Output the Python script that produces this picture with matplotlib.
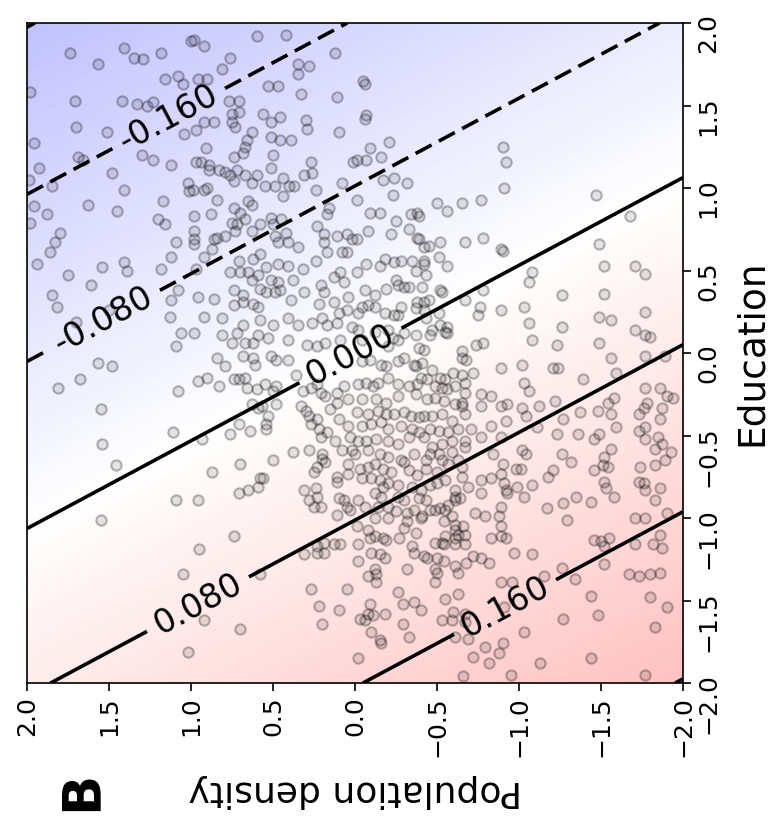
import numpy as np
import matplotlib
matplotlib.use("Agg")
import matplotlib.pyplot as plt

# linear effect surface: z = coef_pop * pop + coef_edu * edu
coef_pop = -0.042
coef_edu = -0.079
edge_levels = [-0.24, 0.24]
label_levels = [-0.16, -0.08, 0.0, 0.08, 0.16]
label_pos = [(1.13, 1.41), (1.55, 0.23), (0.03, -0.01), (0.98, -1.48), (-0.91, -1.53)]
ticks = [2.0, 1.5, 1.0, 0.5, 0.0, -0.5, -1.0, -1.5, -2.0]

pop_density = [
    1.74, 1.57, 1.41, 1.35, 1.29, 1.18, 1.98, 1.71, 1.42, 1.33, 1.27, 1.23, 1.16, 1.08, 1.05, 1.70,
    1.51, 1.96, 1.30, 1.23, 1.12, 1.04, 1.69, 1.66, 1.93, 1.48, 1.99, 1.85, 1.41, 1.96, 1.88, 1.98,
    1.63, 1.45, 1.17, 1.20, 1.16, 1.80, 1.83, 1.86, 1.94, 1.75, 1.54, 1.41, 1.39, 1.18, 1.12, 1.09,
    1.61, 1.85, 1.82, 1.08, 1.12, 1.13, 1.06, 1.09, 1.70, 1.50, 1.00, 1.02, 1.01,
    0.98, 0.92, 0.81, 0.76, 0.60, 0.42, 0.12, 0.35, 0.28, 0.35, 0.96, 0.90, 0.53, 0.47, 0.33, 0.11,
    0.77, 0.71, 0.75, 0.71, 0.56, 0.51, 0.46, 0.75, 0.73, 0.30, 0.29, 0.92, 0.86, 0.97, 0.10, 0.63,
    0.66, 0.67, 0.51, 0.46, 0.39, 0.91, 0.74, 0.68, 0.50, 0.51, 0.27, 0.31, 0.26, 0.01, 0.97, 0.94,
    0.89, 0.89, 0.83, 0.79, 0.76, 0.72, 0.74, 0.67, 0.63, 0.60, 0.99, 0.92, 0.90, 0.84, 0.55, 0.49,
    0.44, 0.40, 0.37, 0.44, 0.24, 0.08, 0.65, 0.63, 0.74, 0.70, 0.51, 0.75, 0.72, 0.67, 0.58, 0.50,
    0.45, 0.98, 0.88, 0.98, 0.98, 0.98, 0.86, 0.84, 0.79, 0.87, 0.73, 0.63, 0.49, 0.42, 0.41, 0.47,
    0.35, 0.23, 0.17, 0.16, 0.19, 0.19, 0.17, 0.11, 0.05, 0.08, 0.05, 0.02, 0.92, 0.71, 0.62, 0.58,
    0.54, 0.47, 0.41, 0.32, 0.24, 0.97, 0.76, 0.70, 0.65, 0.63, 0.59, 0.51, 0.47, 0.46, 0.49, 0.54,
    0.58, 0.38, 0.21, 0.09, 0.13, 0.07, 0.31, 0.96, 0.86, 0.74, 0.68, 0.68, 0.62, 0.74, 0.59, 0.39,
    0.22, 0.19, 0.13, 0.04, 0.05, 0.10, 0.92, 0.81, 0.68, 0.58, 0.50, 0.41, 0.35, 0.26, 0.20, 0.17,
    0.11, 0.02, 0.98, 0.81, 0.72, 0.59, 0.53, 0.41, 0.29, 0.23, 0.18, 0.67, 0.62, 0.75, 0.09,
    -0.05, -0.06, -0.07, -0.06, -0.21, -0.09, -0.07, -0.01, -0.16, -0.17, -0.24, -0.32, -0.23, -0.01,
    -0.50, -0.56, -0.65, -0.77, -0.90, -0.92, -0.91, -0.09, -0.15, -0.25, -0.34, -0.38, -0.39, -0.33,
    -0.22, -0.08, -0.01, -0.38, -0.39, -0.42, -0.45, -0.52, -0.67, -0.78, -0.89, -0.90, -0.07, -0.15,
    -0.18, -0.24, -0.28, -0.35, -0.42, -0.42, -0.01, -0.37, -0.51, -0.56, -0.43, -0.25, -0.19, -0.26,
    -0.30, -0.33, -0.41, -0.52, -0.53, -0.06, -0.12, -0.08, -0.04, -0.12, -0.02, -0.18, -0.24, -0.26,
    -0.28, -0.38, -0.42, -0.45, -0.37, -0.42, -0.43, -0.51, -0.52, -0.56, -0.55, -0.67, -0.76, -0.75,
    -0.78, -0.89, -0.04, -0.12, -0.20, -0.23, -0.26, -0.30, -0.37, -0.46, -0.47, -0.56, -0.74, -0.78,
    -0.02, -0.20, -0.39, -0.42, -0.65,
    -1.47, -1.68, -1.49, -1.08, -1.06, -1.52, -1.71, -1.77, -1.26, -1.52, -1.03, -1.06, -1.49, -1.56,
    -1.77, -1.26, -1.71, -1.77, -1.80, -1.08, -1.23, -1.49,
    1.57, 1.48, 1.68, 1.81, 1.08, 1.55, 1.11, 1.54, 1.46, 1.09, 1.55, 1.05, 1.02,
    0.84, 0.79, 0.68, 0.62, 0.61, 0.51, 0.48, 0.41, 0.96, 0.90, 0.83, 0.74, 0.71, 0.67, 0.66, 0.60,
    0.55, 0.50, 0.48, 0.48, 0.36, 0.32, 0.27, 0.23, 0.21, 0.18, 0.53, 0.54, 0.54, 0.63, 0.59, 0.57,
    0.71, 0.64, 0.76, 0.93, 0.33, 0.30, 0.28, 0.27, 0.23, 0.22, 0.21, 0.17, 0.15, 0.11, 0.11, 0.07,
    0.04, 0.10, 0.04, 0.03, 0.12, 0.08, 0.02, 0.38, 0.28, 0.50, 0.70, 0.87, 0.20, 0.20, 0.18, 0.23,
    0.25, 0.04, 0.04, 0.11, 0.11, 0.58, 0.56, 0.59, 0.65, 0.71, 0.96, 0.31, 0.24, 0.23, 0.28, 0.25,
    0.21, 0.10, 0.07, 0.05, 0.03, 0.11, 0.74, 0.95, 0.23, 0.19, 0.13, 0.09, 0.19, 0.23, 0.31, 0.58,
    0.27, 0.22, 0.10, 0.05, 0.20, 0.92, 0.70,
    -0.04, -0.09, -0.16, -0.19, -0.26, -0.30, -0.36, -0.37, -0.41, -0.47, -0.52, -0.55, -0.60, -0.65,
    -0.65, -0.68, -0.72, -0.89, -0.02, -0.07, -0.11, -0.14, -0.20, -0.26, -0.33, -0.38, -0.40, -0.44,
    -0.49, -0.53, -0.56, -0.61, -0.67, -0.04, -0.13, -0.19, -0.26, -0.37, -0.44, -0.49, -0.54, -0.61,
    -0.65, -0.67, -0.77, -0.83, -0.89, -0.93, -0.92, -0.01, -0.08, -0.14, -0.19, -0.24, -0.30, -0.34,
    -0.39, -0.42, -0.47, -0.53, -0.59, -0.67, -0.65, -0.77, -0.83, -0.04, -0.10, -0.16, -0.20, -0.28,
    -0.35, -0.39, -0.46, -0.51, -0.57, -0.63, -0.71, -0.77, -0.89, -0.02, -0.07, -0.13, -0.20, -0.26,
    -0.33, -0.42, -0.47, -0.53, -0.59, -0.67, 0.00, -0.08, -0.15, -0.20, -0.28, -0.36, -0.43, -0.46,
    -0.51, -0.53, -0.59, -0.67, -0.63, -0.84, -0.90, -0.89, -0.98, -0.92, -0.93, -0.03, -0.08, -0.12,
    -0.17, -0.22, -0.30, -0.33, -0.38, -0.43, -0.50, -0.57, -0.65, -0.65, -0.77, -0.83, -0.91, -0.99,
    -0.04, -0.10, -0.15, -0.17, -0.20, -0.26, -0.35, -0.40, -0.46, -0.50, -0.55, -0.61, -0.69, -0.61,
    -0.02, -0.12, -0.16, -0.26, -0.30, -0.39, -0.43, -0.49, -0.52, -0.57, -0.61, -0.64, -0.77, -0.06,
    -0.14, -0.20, -0.25, -0.32, -0.36, -0.40, -0.46, -0.55, -0.59, -0.73, -0.79, -0.88, -0.89, -0.01,
    -0.08, -0.12, -0.20, -0.32, -0.41, -0.30, -0.37, -0.54, -0.61, -0.61, -0.66, -0.67, -0.63, -0.55,
    -0.89, -0.89, -0.92, -0.83, -0.97, -0.02, -0.09, -0.12, -0.17, -0.19, -0.27, -0.49, -0.53, -0.54,
    -0.61, -0.61, -0.67, -0.72, -0.77, -0.82, -0.02, -0.10, -0.15, -0.18, -0.35, -0.36, -0.42, -0.44,
    -0.50, -0.49, -0.50, -0.54, -0.61, -0.63, -0.68, -0.12, -0.13, -0.13, -0.08, -0.32, -0.49, -0.26,
    -0.29, -0.36, -0.40, -0.55, -0.63, -0.67, -0.89, -0.96, -0.91, -0.09, -0.08, -0.11, -0.18, -0.03,
    -0.06, -0.29, -0.33, -0.53, -0.60, -0.59, -0.61, -0.69, -0.67, -0.10, -0.15, -0.16, -0.02, -0.72,
    -0.79, -0.82, -0.88, -0.90, -0.66, -0.95,
    -1.02, -1.21, -1.24, -1.39, -1.56, -1.59, -1.77, -1.89, -1.03, -1.06, -1.02, -1.04, -1.12, -1.22,
    -1.37, -1.48, -1.54, -1.58, -1.56, -1.77, -1.86, -1.90, -1.94, -1.78, -1.76, -1.87, -1.73, -1.11,
    -1.27, -1.23, -1.36, -1.46, -1.49, -1.59, -1.73, -1.77, -1.86, -1.85, -1.77, -1.87, -1.83, -1.93,
    -1.02, -1.04, -1.01, -1.26, -1.32, -1.52, -1.51, -1.54, -1.46, -1.56, -1.21, -1.18, -1.74, -1.83,
    -1.89, -1.08, -1.03, -1.73, -1.76, -1.77, -1.86, -1.83, -1.52, -1.53, -1.58, -1.35, -1.27, -1.44,
    -1.17, -1.29, -1.71, -1.77, -1.90, -1.86, -1.82, -1.87, -1.71, -1.46, -1.50, -1.52, -1.55, -1.08,
    -1.52, -1.26, -1.15, -1.34, -1.67, -1.73, -1.80, -1.86, -1.44, -1.48, -1.80, -1.90, -1.83, -1.27,
    -1.03, -1.13, -1.44, -1.77,
]
education = [
    1.82, 1.75, 1.85, 1.79, 1.78, 1.82, 1.58, 1.53, 1.53, 1.51, 1.50, 1.52, 1.66, 1.68, 1.63, 1.37,
    1.34, 1.27, 1.20, 1.17, 1.14, 1.33, 1.19, 1.17, 1.12, 1.09, 1.05, 1.01, 0.99, 0.89, 0.84, 0.79,
    0.90, 0.86, 0.92, 0.81, 0.78, 0.73, 0.67, 0.61, 0.54, 0.47, 0.52, 0.55, 0.50, 0.51, 0.58, 0.67,
    0.41, 0.35, 0.28, 0.38, 0.32, 0.22, 0.12, 0.04, 0.19, 0.26, 1.89, 1.03, 0.98,
    1.90, 1.86, 1.72, 1.79, 1.92, 1.93, 1.82, 1.75, 1.74, 1.69, 1.66, 1.66, 1.62, 1.62, 1.57, 1.55,
    1.53, 1.53, 1.45, 1.46, 1.45, 1.40, 1.43, 1.40, 1.37, 1.41, 1.36, 1.40, 1.40, 1.35, 1.34, 1.34,
    1.29, 1.25, 1.31, 1.29, 1.29, 1.24, 1.19, 1.21, 1.20, 1.12, 1.16, 1.08, 1.09, 1.16, 1.16, 1.16,
    1.14, 1.11, 1.11, 1.10, 1.08, 1.11, 1.04, 1.08, 1.03, 1.08, 0.99, 0.99, 1.00, 0.93, 1.01, 1.01,
    1.06, 1.01, 1.01, 0.95, 0.99, 1.03, 0.92, 0.90, 0.88, 0.85, 0.82, 0.79, 0.78, 0.81, 0.78, 0.78,
    0.81, 0.83, 0.84, 0.74, 0.69, 0.66, 0.69, 0.70, 0.71, 0.63, 0.74, 0.74, 0.71, 0.73, 0.67, 0.67,
    0.64, 0.77, 0.84, 0.88, 0.72, 0.67, 0.61, 0.71, 0.72, 0.61, 0.61, 0.69, 0.58, 0.56, 0.57, 0.60,
    0.52, 0.54, 0.53, 0.51, 0.56, 0.51, 0.49, 0.49, 0.49, 0.44, 0.47, 0.44, 0.43, 0.38, 0.37, 0.37,
    0.39, 0.44, 0.41, 0.49, 0.46, 0.43, 0.37, 0.34, 0.33, 0.38, 0.35, 0.31, 0.30, 0.29, 0.28, 0.32,
    0.30, 0.37, 0.31, 0.34, 0.26, 0.24, 0.22, 0.21, 0.17, 0.20, 0.17, 0.21, 0.17, 0.18, 0.21, 0.17,
    0.18, 0.16, 0.12, 0.11, 0.12, 0.11, 0.09, 0.08, 0.05, 0.04, 0.06, 0.06, 0.06, 0.06, 0.08,
    1.65, 1.63, 1.44, 1.42, 1.28, 1.24, 1.17, 1.17, 1.19, 1.05, 1.06, 1.03, 0.96, 0.93,
    0.91, 0.86, 0.91, 0.93, 1.25, 1.16, 1.00, 0.85, 0.85, 0.80, 0.84, 0.85, 0.83, 0.75,
    0.72, 0.74, 0.69, 0.70, 0.69, 0.64, 0.65, 0.67, 0.67, 0.70, 0.63, 0.62, 0.54, 0.53,
    0.57, 0.55, 0.56, 0.56, 0.56, 0.54, 0.49, 0.50, 0.58, 0.53, 0.47, 0.44, 0.39, 0.41,
    0.40, 0.40, 0.40, 0.38, 0.37, 0.38, 0.35, 0.29, 0.28, 0.28, 0.24, 0.24, 0.23, 0.23,
    0.28, 0.31, 0.31, 0.32, 0.27, 0.26, 0.21, 0.24, 0.17, 0.16, 0.13, 0.32, 0.28, 0.23,
    0.38, 0.26, 0.08, 0.13, 0.14, 0.09, 0.08, 0.12, 0.11, 0.11, 0.14, 0.12, 0.05, 0.06,
    0.14, 0.04, 0.03, 0.02, 0.01,
    0.96, 0.83, 0.66, 0.49, 0.43, 0.53, 0.53, 0.48, 0.35, 0.36, 0.28, 0.18, 0.22, 0.20,
    0.25, 0.16, 0.14, 0.11, 0.10, 0.08, 0.05, 0.06,
    -0.06, -0.08, -0.16, -0.21, -0.23, -0.34, -0.48, -0.55, -0.68, -0.89, -1.01, -1.34, -1.81,
    -0.03, -0.08, -0.02, -0.03, -0.07, -0.02, -0.04, -0.04, -0.17, -0.15, -0.20, -0.16, -0.16, -0.15,
    -0.21, -0.22, -0.19, -0.23, -0.20, -0.31, -0.13, -0.23, -0.21, -0.19, -0.24, -0.26, -0.38, -0.43,
    -0.46, -0.31, -0.33, -0.32, -0.43, -0.47, -0.49, -0.52, -0.32, -0.35, -0.38, -0.43, -0.40, -0.46,
    -0.51, -0.48, -0.34, -0.30, -0.24, -0.20, -0.28, -0.40, -0.44, -0.51, -0.53, -0.59, -0.59, -0.60,
    -0.59, -0.65, -0.67, -0.72, -0.61, -0.64, -0.66, -0.69, -0.72, -0.67, -0.73, -0.75, -0.78, -0.76,
    -0.76, -0.81, -0.83, -0.85, -0.89, -0.83, -0.82, -0.87, -0.89, -0.93, -0.93, -0.88, -0.89, -0.93,
    -0.95, -0.98, -1.11, -1.19, -1.17, -1.15, -1.16, -1.16, -1.21, -1.21, -1.22, -1.34, -1.43, -1.53,
    -1.56, -1.43, -1.64, -1.62, -1.67,
    -0.05, -0.04, -0.07, -0.08, -0.05, -0.03, -0.07, -0.08, -0.06, -0.10, -0.15, -0.16, -0.12, -0.13,
    -0.03, -0.04, -0.12, -0.09, -0.19, -0.18, -0.20, -0.18, -0.15, -0.19, -0.20, -0.19, -0.15, -0.16,
    -0.20, -0.21, -0.22, -0.20, -0.18, -0.28, -0.28, -0.30, -0.26, -0.25, -0.28, -0.27, -0.29, -0.31,
    -0.30, -0.24, -0.25, -0.26, -0.32, -0.31, -0.41, -0.36, -0.37, -0.35, -0.37, -0.37, -0.36, -0.38,
    -0.39, -0.38, -0.38, -0.37, -0.41, -0.37, -0.32, -0.32, -0.44, -0.44, -0.43, -0.42, -0.46, -0.44,
    -0.46, -0.48, -0.46, -0.47, -0.48, -0.46, -0.46, -0.51, -0.51, -0.53, -0.53, -0.52, -0.53, -0.55,
    -0.51, -0.51, -0.57, -0.55, -0.53, -0.53, -0.61, -0.59, -0.61, -0.63, -0.65, -0.61, -0.65, -0.61,
    -0.61, -0.65, -0.60, -0.57, -0.65, -0.61, -0.67, -0.73, -0.70, -0.83, -0.85, -0.70, -0.69, -0.67,
    -0.70, -0.72, -0.66, -0.71, -0.74, -0.70, -0.72, -0.67, -0.69, -0.75, -0.77, -0.76, -0.79, -0.81,
    -0.76, -0.76, -0.77, -0.81, -0.79, -0.80, -0.81, -0.83, -0.80, -0.79, -0.77, -0.83, -0.81, -0.87,
    -0.89, -0.85, -0.87, -0.87, -0.89, -0.88, -0.89, -0.95, -0.94, -0.92, -0.89, -0.88, -0.85, -0.93,
    -0.93, -0.93, -0.96, -0.97, -0.95, -1.00, -0.95, -0.95, -0.99, -0.97, -0.99, -0.99, -0.93, -1.05,
    -1.07, -1.00, -1.00, -1.02, -0.99, -1.06, -1.09, -1.02, -1.04, -1.07, -1.05, -1.10, -1.10, -1.11,
    -1.05, -1.11, -1.12, -1.12, -1.21, -1.16, -1.12, -1.11, -1.12, -1.13, -1.12, -1.15, -1.15, -1.16,
    -1.16, -1.12, -1.16, -1.23, -1.24, -1.27, -1.26, -1.21, -1.22, -1.24, -1.17, -1.21, -1.23, -1.24,
    -1.24, -1.31, -1.33, -1.26, -1.29, -1.33, -1.27, -1.31, -1.34, -1.39, -1.35, -1.31, -1.39, -1.45,
    -1.52, -1.51, -1.56, -1.49, -1.46, -1.58, -1.39, -1.39, -1.54, -1.52, -1.58, -1.59, -1.58, -1.61,
    -1.62, -1.64, -1.72, -1.62, -1.57, -1.62, -1.72, -1.73, -1.63, -1.69, -1.74, -1.76, -1.85, -1.84,
    -1.78, -1.88, -1.82, -1.76, -1.96, -1.95,
    -0.07, -0.09, -0.09, -0.16, -0.03, -0.12, -0.02, -0.02, -0.18, -0.23, -0.33, -0.38, -0.32, -0.29,
    -0.36, -0.35, -0.30, -0.27, -0.37, -0.21, -0.21, -0.26, -0.27, -0.30, -0.33, -0.33, -0.37, -0.45,
    -0.40, -0.49, -0.49, -0.52, -0.49, -0.45, -0.47, -0.45, -0.40, -0.51, -0.52, -0.55, -0.58, -0.60,
    -0.59, -0.61, -0.70, -0.61, -0.66, -0.63, -0.68, -0.69, -0.71, -0.58, -0.71, -0.75, -0.69, -0.68,
    -0.65, -0.80, -0.87, -0.78, -0.79, -0.83, -0.82, -0.89, -0.78, -0.82, -0.87, -0.87, -0.91, -0.90,
    -0.94, -1.01, -1.00, -1.00, -0.97, -1.10, -1.16, -1.18, -1.16, -1.13, -1.14, -1.17, -1.12, -1.22,
    -1.28, -1.30, -1.35, -1.37, -1.34, -1.35, -1.34, -1.33, -1.47, -1.59, -1.48, -1.54, -1.66, -1.61,
    -1.69, -1.88, -1.85, -1.95,
]

pg = np.linspace(-2, 2, 201)
eg = np.linspace(-2, 2, 201)
P, E = np.meshgrid(pg, eg)
Z = coef_pop * P + coef_edu * E

fig = plt.figure(figsize=(7.79, 8.22), dpi=100)
ax = fig.add_axes([0.0347, 0.169, 0.842, 0.803])
ax.set_xlim(2, -2)
ax.set_ylim(-2, 2)

ax.pcolormesh(P, E, Z, cmap='bwr', vmin=-1, vmax=1, shading='gouraud', zorder=0)
ax.scatter(pop_density, education, s=55, facecolors=(0, 0, 0, 0.1),
           edgecolors=(0, 0, 0, 0.28), linewidths=1.5, zorder=2)

# corner levels without labels, middle levels labelled
dash = (0, (5, 2.3))
ax.contour(P, E, Z, levels=edge_levels, colors='k', linewidths=2.6,
           negative_linestyles=dash, zorder=3)
cs = ax.contour(P, E, Z, levels=label_levels, colors='k', linewidths=2.6,
                negative_linestyles=dash, zorder=3)
ax.clabel(cs, manual=label_pos, fmt='%.3f', fontsize=24, inline=True, inline_spacing=10)

ax.set_xticks(ticks)
ax.set_yticks(ticks)
ax.yaxis.tick_right()
ax.yaxis.set_label_position('right')
ax.tick_params(axis='x', labelrotation=90, labelsize=18, length=6, width=1.2)
ax.tick_params(axis='y', labelrotation=90, labelsize=18, length=6, width=1.2)
for sp in ax.spines.values():
    sp.set_linewidth(1.2)

ax.set_xlabel('Population density', fontsize=26, rotation=180, labelpad=12)
ax.set_ylabel('Education', fontsize=27, labelpad=10)

fig.text(0.105, 0.0377, 'B', fontsize=38, fontweight='bold', rotation=90, ha='center', va='center')

fig.savefig('out.png', dpi=100)
